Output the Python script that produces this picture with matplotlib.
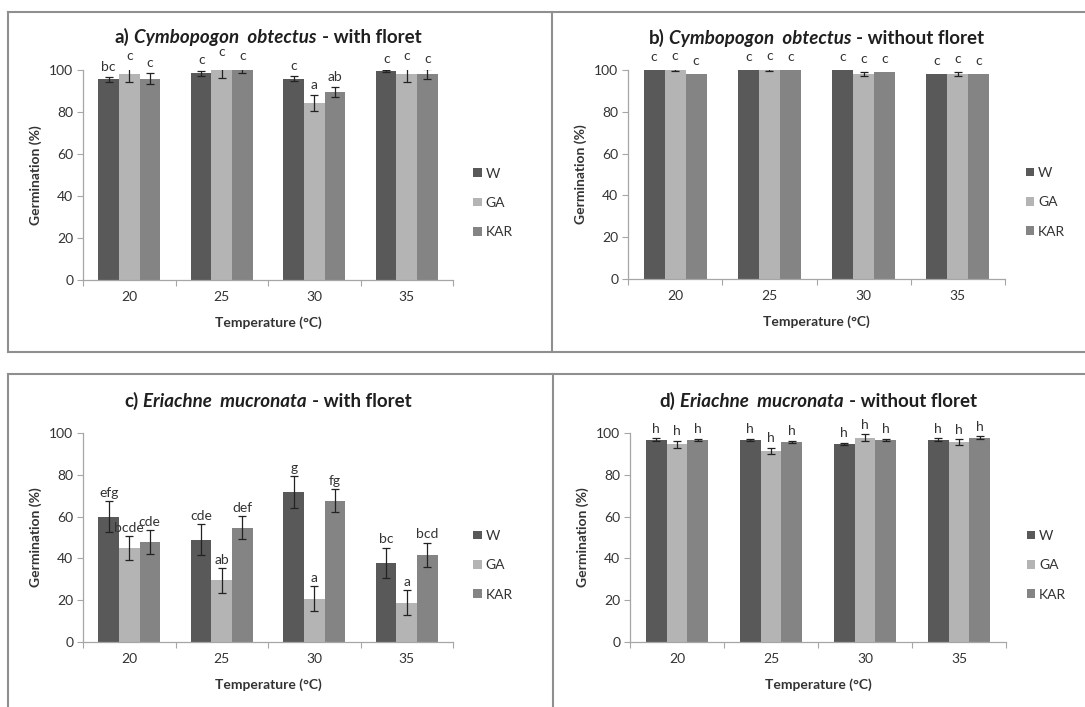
import matplotlib
matplotlib.use("Agg")
import matplotlib.pyplot as plt
from matplotlib.lines import Line2D
from matplotlib.offsetbox import TextArea, HPacker, AnchoredOffsetbox
import numpy as np

plt.rcParams['font.family'] = ['Lato', 'DejaVu Sans']

# --- Data ---
temps = ['20', '25', '30', '35']
treatments = ['W', 'GA', 'KAR']

# a) Cymbopogon obtectus - with floret
cym_fl_W = [95.6, 98.4, 95.9, 99.7]
cym_fl_GA = [97.9, 100.0, 84.3, 98.1]
cym_fl_KAR = [95.9, 100.0, 89.5, 98.1]
cym_fl_W_err = [1.1, 1.3, 1.3, 0.5]
cym_fl_GA_err = [3.8, 3.7, 3.8, 3.6]
cym_fl_KAR_err = [2.5, 1.6, 2.5, 2.5]
cym_fl_W_lab = ['bc', 'c', 'c', 'c']
cym_fl_GA_lab = ['c', 'c', 'a', 'c']
cym_fl_KAR_lab = ['c', 'c', 'ab', 'c']

# b) Cymbopogon obtectus - without floret
cym_nf_W = [100.0, 100.0, 100.0, 97.9]
cym_nf_GA = [100.0, 100.0, 97.9, 97.9]
cym_nf_KAR = [97.9, 100.0, 98.9, 97.9]
cym_nf_W_err = [0, 0, 0, 0]
cym_nf_GA_err = [0.6, 0.6, 1.0, 1.0]
cym_nf_KAR_err = [0, 0, 0, 0]
cym_nf_W_lab = ['c', 'c', 'c', 'c']
cym_nf_GA_lab = ['c', 'c', 'c', 'c']
cym_nf_KAR_lab = ['c', 'c', 'c', 'c']

# c) Eriachne mucronata - with floret
eri_fl_W = [60.0, 49.0, 71.7, 37.8]
eri_fl_GA = [44.8, 29.6, 20.8, 18.7]
eri_fl_KAR = [47.8, 54.7, 67.7, 41.8]
eri_fl_W_err = [7.5, 7.4, 7.5, 7.4]
eri_fl_GA_err = [5.7, 6.0, 5.8, 6.0]
eri_fl_KAR_err = [5.6, 5.6, 5.6, 5.8]
eri_fl_W_lab = ['efg', 'cde', 'g', 'bc']
eri_fl_GA_lab = ['bcde', 'ab', 'a', 'a']
eri_fl_KAR_lab = ['cde', 'def', 'fg', 'bcd']

# d) Eriachne mucronata - without floret
eri_nf_W = [96.8, 96.8, 94.9, 96.8]
eri_nf_GA = [94.7, 91.5, 97.8, 95.5]
eri_nf_KAR = [96.8, 95.8, 96.8, 97.8]
eri_nf_W_err = [0.6, 0.5, 0.5, 0.6]
eri_nf_GA_err = [1.7, 1.5, 1.5, 1.4]
eri_nf_KAR_err = [0.5, 0.4, 0.4, 0.6]
eri_nf_W_lab = ['h', 'h', 'h', 'h']
eri_nf_GA_lab = ['h', 'h', 'h', 'h']
eri_nf_KAR_lab = ['h', 'h', 'h', 'h']

# --- Style ---
BAR_COLORS = ['#595959', '#b4b4b4', '#848484']
TEXT_COLOR = '#333333'
AXIS_COLOR = '#a6a6a6'
FRAME_COLOR = '#8f8f8f'
FS = 10

W_PX, H_PX = 1085, 707
fig = plt.figure(figsize=(W_PX / 100, H_PX / 100), dpi=100)


def px_rect(left, top, right, bottom):
    """Axes rectangle from pixel edges (origin at top-left)."""
    return [left / W_PX, 1 - bottom / H_PX, (right - left) / W_PX, (bottom - top) / H_PX]


def draw_panel(rect, prefix, species, suffix, means, errs, letters, letter_pad):
    ax = fig.add_axes(rect)
    x = np.arange(len(temps))
    width = 1 / 4.5

    for i, name in enumerate(treatments):
        pos = x + (i - 1) * width
        ax.bar(pos, means[i], width, color=BAR_COLORS[i], label=name, zorder=2)
        err = np.array(errs[i], dtype=float)
        has_err = err > 0
        if has_err.any():
            ax.errorbar(pos[has_err], np.array(means[i])[has_err], yerr=err[has_err],
                        fmt='none', ecolor='#222222', elinewidth=0.9,
                        capsize=3, capthick=0.9, zorder=3)
        for xp, m, e, t in zip(pos, means[i], err, letters[i]):
            ax.annotate(t, (xp, m + e), xytext=(0, letter_pad), textcoords='offset points',
                        ha='center', va='bottom', fontsize=FS, color=TEXT_COLOR,
                        annotation_clip=False)

    ax.set_xlim(-0.5, len(temps) - 0.5)
    ax.set_ylim(0, 100)
    ax.set_yticks(range(0, 101, 20))
    ax.set_xticks(x)
    ax.set_xticklabels(temps)
    ax.set_xticks(np.arange(-0.5, len(temps), 1.0), minor=True)
    ax.tick_params(axis='x', which='major', length=0, pad=8, labelsize=FS, labelcolor=TEXT_COLOR)
    ax.tick_params(axis='x', which='minor', length=4, width=0.8, color=AXIS_COLOR, direction='out')
    ax.tick_params(axis='y', length=4, width=0.8, color=AXIS_COLOR, pad=3,
                   labelsize=FS, labelcolor=TEXT_COLOR)

    for side in ('top', 'right'):
        ax.spines[side].set_visible(False)
    for side in ('left', 'bottom'):
        ax.spines[side].set_color(AXIS_COLOR)
        ax.spines[side].set_linewidth(0.9)

    ax.set_ylabel('Germination (%)', fontsize=FS, fontweight='bold', color=TEXT_COLOR)
    ax.yaxis.set_label_coords(-0.11, 0.5)
    ax.set_xlabel('Temperature (°C)', fontsize=FS, fontweight='bold', color=TEXT_COLOR, va='center')
    ax.xaxis.set_label_coords(0.5, -0.205)

    # title with the species name in italics
    tprops = dict(fontsize=13.5, fontweight='bold', color='#1f1f1f')
    parts = [TextArea(prefix, textprops=tprops),
             TextArea(species, textprops=dict(tprops, style='italic')),
             TextArea(suffix, textprops=tprops)]
    title_box = HPacker(children=parts, align='baseline', pad=0, sep=3.5)
    anchored = AnchoredOffsetbox(loc='center', child=title_box, pad=0, borderpad=0, frameon=False,
                                 bbox_to_anchor=(0.5, 1.155), bbox_transform=ax.transAxes)
    ax.add_artist(anchored)

    ax.legend(loc='center left', bbox_to_anchor=(1.055, 0.367), frameon=False,
              borderaxespad=0, borderpad=0, handlelength=0.6, handleheight=0.6,
              handletextpad=0.3, labelspacing=1.25, fontsize=FS, labelcolor=TEXT_COLOR)
    return ax


draw_panel(px_rect(83, 70, 453, 280), 'a)', 'Cymbopogon  obtectus', '- with floret',
           [cym_fl_W, cym_fl_GA, cym_fl_KAR],
           [cym_fl_W_err, cym_fl_GA_err, cym_fl_KAR_err],
           [cym_fl_W_lab, cym_fl_GA_lab, cym_fl_KAR_lab], 3)

draw_panel(px_rect(628, 70, 1005, 279), 'b)', 'Cymbopogon  obtectus', '- without floret',
           [cym_nf_W, cym_nf_GA, cym_nf_KAR],
           [cym_nf_W_err, cym_nf_GA_err, cym_nf_KAR_err],
           [cym_nf_W_lab, cym_nf_GA_lab, cym_nf_KAR_lab], 5)

draw_panel(px_rect(83, 433, 453, 642), 'c)', 'Eriachne  mucronata', '- with floret',
           [eri_fl_W, eri_fl_GA, eri_fl_KAR],
           [eri_fl_W_err, eri_fl_GA_err, eri_fl_KAR_err],
           [eri_fl_W_lab, eri_fl_GA_lab, eri_fl_KAR_lab], 1.5)

draw_panel(px_rect(630, 433, 1006, 642), 'd)', 'Eriachne  mucronata', '- without floret',
           [eri_nf_W, eri_nf_GA, eri_nf_KAR],
           [eri_nf_W_err, eri_nf_GA_err, eri_nf_KAR_err],
           [eri_nf_W_lab, eri_nf_GA_lab, eri_nf_KAR_lab], 2.5)

# grey frames around the four chart objects
frame_segments = [
    ((8, 12), (1085, 12)), ((8, 12), (8, 352)), ((8, 352), (1085, 352)), ((552, 12), (552, 352)),
    ((8, 374), (1085, 374)), ((8, 374), (8, 707)), ((553, 374), (553, 707)),
]
for (x0, y0), (x1, y1) in frame_segments:
    fig.add_artist(Line2D([x0 / W_PX, x1 / W_PX], [1 - y0 / H_PX, 1 - y1 / H_PX],
                          transform=fig.transFigure, color=FRAME_COLOR, linewidth=1.5))

fig.savefig('out.png', dpi=100)
